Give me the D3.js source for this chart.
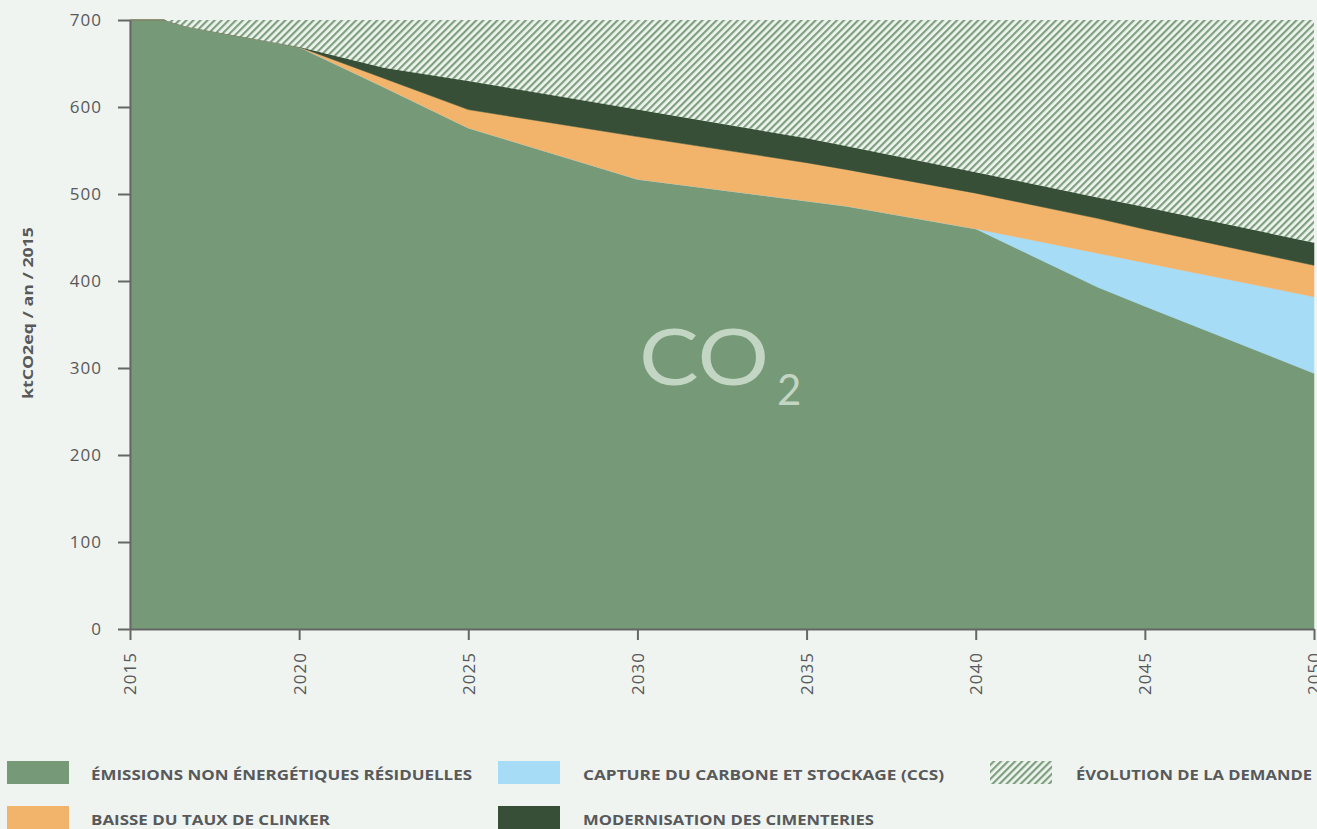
<!DOCTYPE html>
<html>
<head>
<meta charset="utf-8">
<script src="https://cdn.jsdelivr.net/npm/d3@7"></script>
<style>
  html, body { margin: 0; padding: 0; background: #eff4f0; }
  svg { display: block; }
</style>
</head>
<body>
<svg id="chart" width="1317" height="829"></svg>
<script>
// ---- data ----
const years    = [2015, 2016, 2016.7, 2020, 2022.5, 2025, 2030, 2035, 2036.2, 2040, 2043.6, 2045, 2050];
const residual = [700, 700, 692, 669, 623, 576, 517, 492, 486, 460, 393, 371, 294];
const ccs      = [0, 0, 0, 0, 0, 0, 0, 0, 0, 0, 39, 50, 88];
const clinker  = [0, 0, 0, 0, 10, 21, 49, 44, 42, 41, 40, 38.5, 36];
const modern   = [0, 0, 0, 0, 12, 33, 31, 28, 27, 24, 24, 25.5, 26];
const demand   = [0, 0, 8, 31, 55, 70, 103, 136, 145, 175, 204, 215, 256];
const xTicks   = [2015, 2020, 2025, 2030, 2035, 2040, 2045, 2050];
const yTicks   = [0, 100, 200, 300, 400, 500, 600, 700];
const seriesKeys   = ["residual", "ccs", "clinker", "modern", "demand"];
const seriesLabels = {
  residual: "ÉMISSIONS NON ÉNERGÉTIQUES RÉSIDUELLES",
  ccs: "CAPTURE DU CARBONE ET STOCKAGE (CCS)",
  clinker: "BAISSE DU TAUX DE CLINKER",
  modern: "MODERNISATION DES CIMENTERIES",
  demand: "ÉVOLUTION DE LA DEMANDE"
};
const yTitle = "ktCO2eq / an / 2015";

// ---- styles ----
const colors = {
  residual: "#769a78",
  ccs: "#a6dcf6",
  clinker: "#f2b36a",
  modern: "#364f36",
  demand: "url(#hatch)"
};
const bg = "#eff4f0";
const axisColor = "#666666";
const textColor = "#58595b";

const table = years.map((y, i) => ({
  year: y, residual: residual[i], ccs: ccs[i], clinker: clinker[i], modern: modern[i], demand: demand[i]
}));

const svg = d3.select("#chart");
const defs = svg.append("defs");
const pat = defs.append("pattern")
  .attr("id", "hatch")
  .attr("patternUnits", "userSpaceOnUse")
  .attr("width", 5).attr("height", 5)
  .attr("patternTransform", "rotate(45)");
pat.append("rect").attr("width", 5).attr("height", 5).attr("fill", bg);
pat.append("rect").attr("width", 2.2).attr("height", 5).attr("fill", "#7fa07f");

const margin = { left: 130, right: 1314, top: 20, bottom: 629 };
const x = d3.scaleLinear().domain([2015, 2050]).range([margin.left, margin.right]);
const y = d3.scaleLinear().domain([0, 700]).range([margin.bottom, margin.top]);

const stack = d3.stack().keys(seriesKeys);
const layers = stack(table);
const area = d3.area()
  .x(d => x(d.data.year))
  .y0(d => y(d[0]))
  .y1(d => y(d[1]));

svg.append("g").selectAll("path")
  .data(layers)
  .join("path")
  .attr("d", area)
  .attr("fill", d => colors[d.key])
  .attr("stroke", d => d.key === "demand" ? "none" : colors[d.key])
  .attr("stroke-width", 0.5);

// CO2 label
const co2 = svg.append("text")
  .attr("x", 639).attr("y", 385)
  .attr("font-family", "Lato, 'Open Sans', sans-serif")
  .attr("font-size", 77)
  .attr("fill", "#c2d6c3");
co2.append("tspan").text("CO").attr("textLength", 130).attr("lengthAdjust", "spacingAndGlyphs");
co2.append("tspan").text("2").attr("x", 777).attr("y", 405).attr("font-size", 42);

// Axes
const yAxis = svg.append("g")
  .attr("transform", `translate(${margin.left},0)`)
  .call(d3.axisLeft(y).tickValues(yTicks).tickSize(12).tickSizeOuter(0).tickPadding(16));
const xAxis = svg.append("g")
  .attr("transform", `translate(0,${margin.bottom})`)
  .call(d3.axisBottom(x).tickValues(xTicks).tickFormat(d3.format("d")).tickSize(11).tickSizeOuter(0));

[yAxis, xAxis].forEach(g => {
  g.selectAll(".domain").attr("stroke", axisColor).attr("stroke-width", 2);
  g.selectAll(".tick line").attr("stroke", axisColor).attr("stroke-width", 2);
  g.selectAll("text").attr("fill", textColor)
    .attr("font-family", "'Open Sans', sans-serif")
    .attr("font-size", 17).attr("letter-spacing", 1);
});
yAxis.selectAll("text").attr("dy", "0.35em");
xAxis.selectAll(".tick text")
  .attr("transform", "rotate(-90)")
  .attr("text-anchor", "end")
  .attr("x", -23).attr("y", 0).attr("dy", "0.35em");

// Y title
svg.append("text")
  .attr("transform", "translate(33,313) rotate(-90)")
  .attr("text-anchor", "middle")
  .attr("font-family", "'Open Sans', sans-serif")
  .attr("font-weight", 700)
  .attr("font-size", 15)
  .attr("fill", textColor)
  .attr("textLength", 172)
  .attr("lengthAdjust", "spacingAndGlyphs")
  .text(yTitle);

// Legend
const legendItems = [
  { key: "residual", sx: 7,   tx: 91,   ty: 780, tl: 381 },
  { key: "ccs",      sx: 498, tx: 583,  ty: 780, tl: 361 },
  { key: "demand",   sx: 990, tx: 1076, ty: 780, tl: 236 },
  { key: "clinker",  sx: 7,   tx: 91,   ty: 825, tl: 239 },
  { key: "modern",   sx: 498, tx: 583,  ty: 825, tl: 291 }
];
const lg = svg.append("g");
legendItems.forEach(it => {
  lg.append("rect")
    .attr("x", it.sx).attr("y", it.ty - 19)
    .attr("width", 62).attr("height", 23)
    .attr("fill", colors[it.key]);
  lg.append("text")
    .attr("x", it.tx).attr("y", it.ty)
    .attr("font-family", "'Open Sans', sans-serif")
    .attr("font-weight", 700)
    .attr("font-size", 15)
    .attr("fill", textColor)
    .attr("textLength", it.tl)
    .attr("lengthAdjust", "spacingAndGlyphs")
    .text(seriesLabels[it.key]);
});
</script>
</body>
</html>
